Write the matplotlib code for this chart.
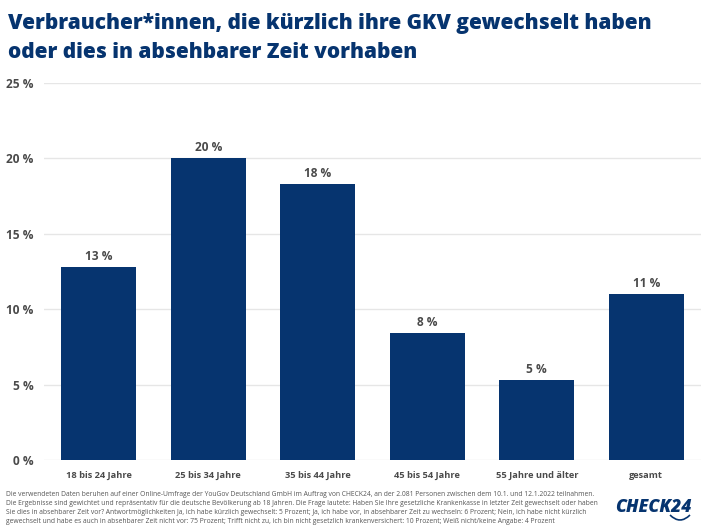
#!/usr/bin/env python
"""CHECK24 bar chart: GKV switchers by age group."""

import matplotlib
matplotlib.use("Agg")  # headless

import matplotlib.pyplot as plt
import numpy as np
from matplotlib.patches import PathPatch
from matplotlib.path import Path as MplPath

W, H = 710, 532
NAVY = "#06346f"
GREY = "#4a4a4a"

categories = ["18 bis 24 Jahre", "25 bis 34 Jahre", "35 bis 44 Jahre",
              "45 bis 54 Jahre", "55 Jahre und älter", "gesamt"]
values = [12.8, 20.0, 18.3, 8.4, 5.3, 11.0]
value_labels = ["13 %", "20 %", "18 %", "8 %", "5 %", "11 %"]
y_ticks = [0, 5, 10, 15, 20, 25]

title_lines = ["Verbraucher*innen, die kürzlich ihre GKV gewechselt haben",
               "oder dies in absehbarer Zeit vorhaben"]
note_lines = [
    "Die verwendeten Daten beruhen auf einer Online-Umfrage der YouGov Deutschland GmbH im Auftrag von CHECK24, an der 2.081 Personen zwischen dem 10.1. und 12.1.2022 teilnahmen.",
    "Die Ergebnisse sind gewichtet und repräsentativ für die deutsche Bevölkerung ab 18 Jahren. Die Frage lautete: Haben Sie Ihre gesetzliche Krankenkasse in letzter Zeit gewechselt oder haben",
    "Sie dies in absehbarer Zeit vor? Antwortmöglichkeiten Ja, ich habe kürzlich gewechselt: 5 Prozent; Ja, ich habe vor, in absehbarer Zeit zu wechseln: 6 Prozent; Nein, ich habe nicht kürzlich",
    "gewechselt und habe es auch in absehbarer Zeit nicht vor: 75 Prozent; Trifft nicht zu, ich bin nicht gesetzlich krankenversichert: 10 Prozent; Weiß nicht/keine Angabe: 4 Prozent",
]

plt.rcParams["font.family"] = ["Open Sans", "DejaVu Sans"]

fig = plt.figure(figsize=(W / 100, H / 100), dpi=100, facecolor="white")
ax = fig.add_axes([44 / W, 1 - 460 / H, (701 - 44) / W, (460 - 83) / H])

x = np.arange(len(categories))
ax.bar(x, values, width=0.686, color=NAVY, zorder=3)
for xi, v, lab in zip(x, values, value_labels):
    ax.annotate(lab, (xi, v), xytext=(0, 3), textcoords="offset points",
                ha="center", va="bottom", fontsize=8.6, fontweight="bold", color=GREY)

ax.set_xlim(-0.5, len(categories) - 0.5)
ax.set_ylim(0, 25)
ax.set_yticks(y_ticks)
ax.set_yticklabels([f"{t} %" for t in y_ticks], fontsize=8.6, fontweight="bold", color=GREY)
ax.set_xticks(x)
ax.set_xticklabels(categories, fontsize=6.7, fontweight="bold", color=GREY)
ax.tick_params(axis="both", length=0)
ax.tick_params(axis="x", pad=8)
ax.tick_params(axis="y", pad=7.5)
ax.grid(axis="y", color="#e6e6e6", linewidth=1.0, zorder=0)
ax.set_axisbelow(True)
for s in ax.spines.values():
    s.set_visible(False)

for i, line in enumerate(title_lines):
    fig.text(8 / W, 1 - (23 + i * 29) / H, line, fontsize=15.0, fontweight=800,
             color=NAVY, va="center", ha="left")

for i, line in enumerate(note_lines):
    fig.text(6 / W, 1 - (494 + i * 9.2) / H, line, fontsize=4.88, color="#555555",
             va="center", ha="left")

# logo
fig.text(653 / W, 1 - 507 / H, "CHECK24", fontsize=12.6, fontweight=800, style="italic",
         color=NAVY, va="center", ha="center")
swoosh = MplPath([(670 / W, 1 - 515 / H), (680 / W, 1 - 525 / H), (690 / W, 1 - 515 / H)],
                 [MplPath.MOVETO, MplPath.CURVE3, MplPath.CURVE3])
fig.add_artist(PathPatch(swoosh, transform=fig.transFigure, facecolor="none",
                         edgecolor=NAVY, linewidth=1.2))

fig.savefig("out.png", dpi=100, facecolor="white")
